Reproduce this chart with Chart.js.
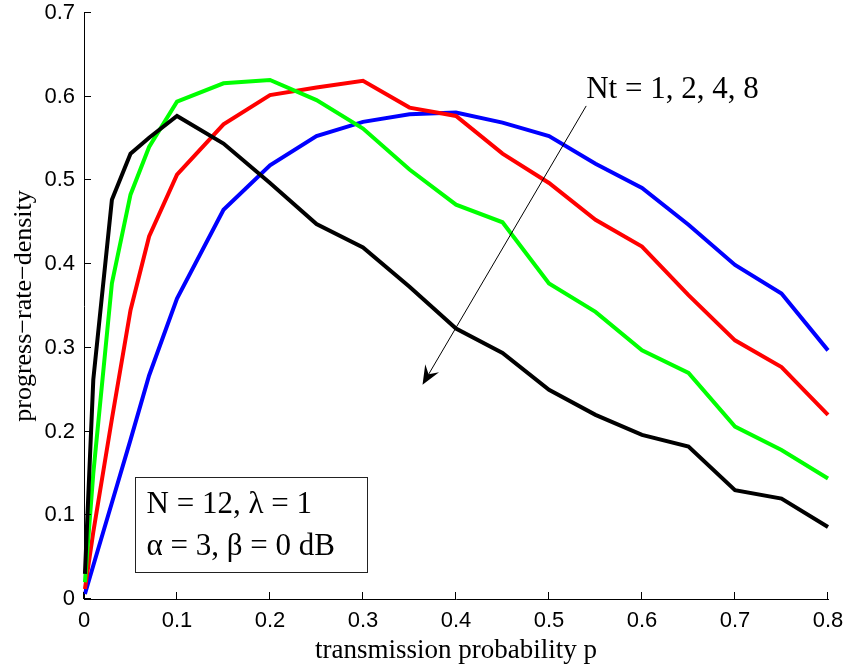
<!DOCTYPE html>
<html>
<head>
<meta charset="utf-8">
<script src="https://cdn.jsdelivr.net/npm/chart.js@4.4.0/dist/chart.umd.min.js"></script>
<style>
  html, body { margin: 0; padding: 0; background: #fff; }
</style>
</head>
<body>
<canvas id="chart" width="846" height="664"></canvas>
<script>
// --- data ---
const pValues = [0.001, 0.01, 0.03, 0.05, 0.07, 0.1, 0.15, 0.2, 0.25, 0.3, 0.35, 0.4, 0.45, 0.5, 0.55, 0.6, 0.65, 0.7, 0.75, 0.8];
const nt1 = [0.006, 0.04, 0.115, 0.19, 0.267, 0.359, 0.465, 0.518, 0.553, 0.570, 0.579, 0.581, 0.569, 0.553, 0.520, 0.491, 0.447, 0.399, 0.365, 0.297];
const nt2 = [0.012, 0.08, 0.215, 0.345, 0.433, 0.507, 0.567, 0.602, 0.611, 0.619, 0.587, 0.577, 0.532, 0.497, 0.453, 0.421, 0.363, 0.309, 0.277, 0.220];
const nt4 = [0.02, 0.15, 0.377, 0.483, 0.540, 0.594, 0.616, 0.620, 0.596, 0.562, 0.513, 0.471, 0.450, 0.377, 0.343, 0.297, 0.270, 0.206, 0.178, 0.144];
const nt8 = [0.03, 0.262, 0.477, 0.532, 0.551, 0.577, 0.544, 0.497, 0.448, 0.420, 0.373, 0.323, 0.294, 0.250, 0.220, 0.196, 0.182, 0.130, 0.120, 0.086];

const xTickValues = [0, 0.1, 0.2, 0.3, 0.4, 0.5, 0.6, 0.7, 0.8];
const xTickLabels = ['0', '0.1', '0.2', '0.3', '0.4', '0.5', '0.6', '0.7', '0.8'];
const yTickValues = [0, 0.1, 0.2, 0.3, 0.4, 0.5, 0.6, 0.7];
const yTickLabels = ['0', '0.1', '0.2', '0.3', '0.4', '0.5', '0.6', '0.7'];

const xTitle = 'transmission probability p';
const yTitle = 'progress\u2212rate\u2212density';
const arrowLabel = 'Nt = 1, 2, 4, 8';
const boxLines = ['N = 12, \u03bb = 1', '\u03b1 = 3, \u03b2 = 0 dB'];

// annotation anchors in data units
const arrowFrom = { x: 0.540, y: 0.589 };
const arrowTo = { x: 0.364, y: 0.256 };
const arrowText = { x: 0.540, y: 0.598 };
const boxRect = { x0: 0.0548, y0: 0.1454, x1: 0.3047, y1: 0.0319 };
const boxText = [{ x: 0.0673, y: 0.1024 }, { x: 0.0673, y: 0.0526 }];

const SANS = '"Liberation Sans", Arial, sans-serif';
const SERIF = '"Liberation Serif", "Times New Roman", serif';
const TICK_LEN = 7;

const toPoints = ys => pValues.map((p, i) => ({ x: p, y: ys[i] }));

function series(data, color) {
  return {
    data: toPoints(data),
    borderColor: color,
    backgroundColor: color,
    borderWidth: 4,
    pointRadius: 0,
    tension: 0,
    fill: false,
    clip: 2
  };
}

// --- inward ticks, arrow and text box ---
const overlay = {
  id: 'overlay',
  afterDraw(chart) {
    const { ctx, chartArea: area, scales: { x, y } } = chart;
    ctx.save();
    ctx.strokeStyle = '#000';
    ctx.lineWidth = 1;
    ctx.beginPath();
    xTickValues.forEach(v => {
      const px = Math.round(x.getPixelForValue(v)) - 0.5;
      ctx.moveTo(px, area.bottom);
      ctx.lineTo(px, area.bottom - TICK_LEN);
    });
    yTickValues.forEach(v => {
      const py = Math.round(y.getPixelForValue(v)) - 0.5;
      ctx.moveTo(area.left, py);
      ctx.lineTo(area.left + TICK_LEN, py);
    });
    ctx.stroke();

    // arrow
    const sx = x.getPixelForValue(arrowFrom.x), sy = y.getPixelForValue(arrowFrom.y);
    const tx = x.getPixelForValue(arrowTo.x), ty = y.getPixelForValue(arrowTo.y);
    const ang = Math.atan2(ty - sy, tx - sx);
    const headLen = 19, headW = 8, notch = 12;
    const ux = Math.cos(ang), uy = Math.sin(ang);
    const bx = tx - ux * headLen, by = ty - uy * headLen;
    ctx.beginPath();
    ctx.moveTo(sx, sy);
    ctx.lineTo(tx - ux * notch, ty - uy * notch);
    ctx.stroke();
    ctx.fillStyle = '#000';
    ctx.beginPath();
    ctx.moveTo(tx, ty);
    ctx.lineTo(bx - uy * headW, by + ux * headW);
    ctx.lineTo(tx - ux * notch, ty - uy * notch);
    ctx.lineTo(bx + uy * headW, by - ux * headW);
    ctx.closePath();
    ctx.fill();

    ctx.font = '31px ' + SERIF;
    ctx.textBaseline = 'alphabetic';
    ctx.textAlign = 'left';
    ctx.fillText(arrowLabel, x.getPixelForValue(arrowText.x), y.getPixelForValue(arrowText.y));

    // parameter box
    const rx0 = Math.round(x.getPixelForValue(boxRect.x0)) + 0.5;
    const ry0 = Math.round(y.getPixelForValue(boxRect.y0)) + 0.5;
    const rx1 = Math.round(x.getPixelForValue(boxRect.x1)) + 0.5;
    const ry1 = Math.round(y.getPixelForValue(boxRect.y1)) + 0.5;
    ctx.fillStyle = '#fff';
    ctx.fillRect(rx0, ry0, rx1 - rx0, ry1 - ry0);
    ctx.strokeStyle = '#222';
    ctx.strokeRect(rx0, ry0, rx1 - rx0, ry1 - ry0);
    ctx.fillStyle = '#000';
    boxLines.forEach((t, i) => {
      ctx.fillText(t, x.getPixelForValue(boxText[i].x), y.getPixelForValue(boxText[i].y));
    });
    ctx.restore();
  }
};

new Chart(document.getElementById('chart'), {
  type: 'line',
  data: {
    // drawn last-to-first, so black ends up on top
    datasets: [
      series(nt8, '#000000'),
      series(nt4, '#00ff00'),
      series(nt2, '#ff0000'),
      series(nt1, '#0000ff')
    ]
  },
  options: {
    responsive: false,
    animation: false,
    devicePixelRatio: 1,
    layout: { padding: { top: 13, right: 18, left: 0, bottom: 0 } },
    plugins: { legend: { display: false }, tooltip: { enabled: false } },
    scales: {
      x: {
        type: 'linear',
        min: 0, max: 0.8,
        afterBuildTicks: s => { s.ticks = xTickValues.map(v => ({ value: v })); },
        afterFit: s => { s.height = 65; s.paddingLeft = 0; s.paddingRight = 0; },
        ticks: {
          autoSkip: false, maxRotation: 0, padding: 9, color: '#000',
          font: { family: SANS, size: 22 },
          callback: (v, i) => xTickLabels[i]
        },
        grid: { display: false, drawTicks: false },
        border: { display: true, color: '#000', width: 1 },
        title: {
          display: true, text: xTitle, color: '#000',
          font: { family: SERIF, size: 27 },
          padding: { top: 0, bottom: -3 }
        }
      },
      y: {
        type: 'linear',
        min: 0, max: 0.7,
        afterBuildTicks: s => { s.ticks = yTickValues.map(v => ({ value: v })); },
        afterFit: s => { s.width = 84; s.paddingTop = 0; s.paddingBottom = 0; },
        ticks: {
          autoSkip: false, padding: 9, color: '#000',
          font: { family: SANS, size: 22 },
          callback: (v, i) => yTickLabels[i]
        },
        grid: { display: false, drawTicks: false },
        border: { display: true, color: '#000', width: 1 },
        title: {
          display: true, text: yTitle, color: '#000',
          font: { family: SERIF, size: 26 },
          padding: { top: 9, bottom: 0 }
        }
      }
    }
  },
  plugins: [overlay]
});
</script>
</body>
</html>
